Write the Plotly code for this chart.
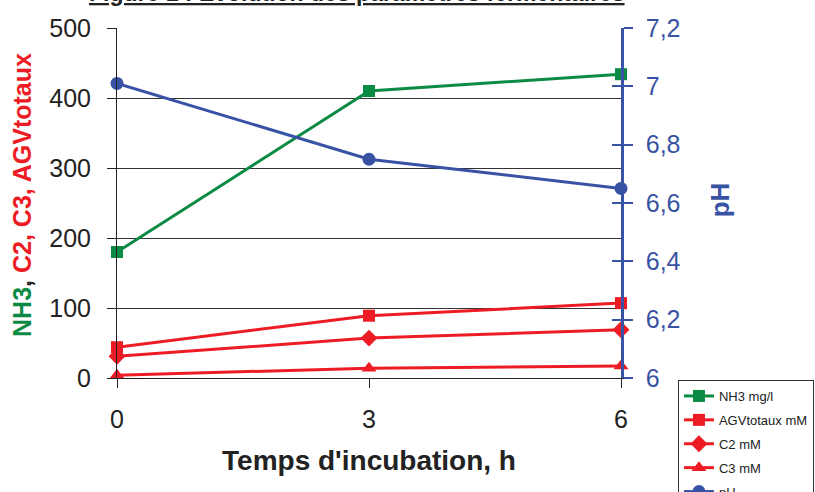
import plotly.graph_objects as go

# ---- data ----
hours = [0, 3, 6]
nh3 = [180, 410, 434]
agv_totaux = [44, 89, 107]
c2 = [31, 57, 69]
c3 = [4, 14, 17]
ph = [7.01, 6.75, 6.65]

series_names = ["NH3 mg/l", "AGVtotaux mM", "C2 mM", "C3 mM", "pH"]
left_ticks = [0, 100, 200, 300, 400, 500]
ph_ticks = [6, 6.2, 6.4, 6.6, 6.8, 7, 7.2]
ph_ticklabels = ["6", "6,2", "6,4", "6,6", "6,8", "7", "7,2"]
x_ticks = [0, 3, 6]

GREEN = "#0B8A44"
RED = "#ED1C24"
BLUE = "#3953A4"
FONT = "Liberation Sans, Arial, sans-serif"

fig = go.Figure()
fig.add_trace(go.Scatter(x=hours, y=nh3, name=series_names[0], legendgroup="g0", mode="lines+markers",
                         line=dict(color=GREEN, width=3),
                         marker=dict(symbol="square", size=12, color=GREEN), cliponaxis=False))
fig.add_trace(go.Scatter(x=hours, y=agv_totaux, name=series_names[1], legendgroup="g1", mode="lines+markers",
                         line=dict(color=RED, width=3),
                         marker=dict(symbol="square", size=12, color=RED), cliponaxis=False))
fig.add_trace(go.Scatter(x=hours, y=c2, name=series_names[2], legendgroup="g2", mode="lines+markers",
                         line=dict(color=RED, width=3),
                         marker=dict(symbol="diamond", size=13, color=RED), cliponaxis=False))
fig.add_trace(go.Scatter(x=hours, y=c3, name=series_names[3], legendgroup="g3", mode="lines+markers",
                         line=dict(color=RED, width=3),
                         marker=dict(symbol="triangle-up", size=13, color=RED), cliponaxis=False))
fig.add_trace(go.Scatter(x=hours, y=ph, name=series_names[4], legendgroup="g4", mode="lines+markers", yaxis="y2",
                         line=dict(color=BLUE, width=3),
                         marker=dict(symbol="circle", size=13, color=BLUE), cliponaxis=False))
# helper trace so the inner half of the crossing pH ticks is drawn
fig.add_trace(go.Scatter(x=[None], y=[None], yaxis="y3", showlegend=False, hoverinfo="skip"))

fig.update_layout(
    width=815, height=492, autosize=False,
    margin=dict(l=117, r=194, t=28, b=114, autoexpand=False),
    paper_bgcolor="white", plot_bgcolor="white",
    font=dict(family=FONT, color="#222222"),
    showlegend=True,
    legend=dict(x=1.113, y=-0.0057, xanchor="left", yanchor="top",
                bgcolor="white", bordercolor="#333333", borderwidth=1,
                font=dict(size=13, color="#222222", family=FONT), tracegroupgap=4),
    xaxis=dict(range=[0, 6], tickvals=x_ticks, showgrid=False, zeroline=False,
               showline=True, linecolor="#222222", linewidth=1,
               ticks="outside", ticklen=9, tickcolor="#222222",
               tickfont=dict(size=25, color="#222222"), ticklabelstandoff=10,
               title=dict(text="Temps d'incubation, h", standoff=18,
                          font=dict(size=28, weight="bold", color="#222222"))),
    yaxis=dict(range=[0, 500], tickvals=left_ticks, showgrid=True, gridcolor="#333333", gridwidth=1,
               zeroline=False, showline=True, linecolor="#222222", linewidth=1,
               ticks="outside", ticklen=9, tickcolor="#222222",
               tickfont=dict(size=25, color="#222222"), ticklabelstandoff=11),
    yaxis2=dict(range=[6, 7.2], overlaying="y", side="right", anchor="x",
                tickvals=ph_ticks, ticktext=ph_ticklabels, showgrid=False, zeroline=False,
                showline=True, linecolor=BLUE, linewidth=2.5,
                ticks="outside", ticklen=9, tickwidth=2, tickcolor=BLUE,
                tickfont=dict(size=25, color=BLUE), ticklabelstandoff=8),
    yaxis3=dict(range=[6, 7.2], overlaying="y", side="right", anchor="x",
                tickvals=ph_ticks, showticklabels=False, showgrid=False, zeroline=False,
                showline=False, ticks="inside", ticklen=9, tickwidth=2, tickcolor=BLUE),
    annotations=[
        dict(text="<span style='color:%s'>NH3</span>, <span style='color:%s'>C2, C3, AGVtotaux</span>" % (GREEN, RED),
             xref="paper", yref="paper", x=-0.1885, y=0.523, textangle=-90,
             showarrow=False, xanchor="center", yanchor="middle",
             font=dict(size=25, weight="bold", color="#222222")),
        dict(text="pH", xref="paper", yref="paper", x=1.196, y=0.51, textangle=-90,
             showarrow=False, xanchor="center", yanchor="middle",
             font=dict(size=26, weight="bold", color=BLUE)),
        dict(text="<u>Figure 1 : Evolution des paramètres fermentaires</u>",
             xref="paper", yref="paper", x=0.476, y=1.058, xanchor="center", yanchor="bottom",
             showarrow=False, font=dict(size=23, weight="bold", color="#222222")),
    ],
)

fig.write_html("out.html", config={"displayModeBar": False},
               post_script="document.body.style.margin='0px';")
